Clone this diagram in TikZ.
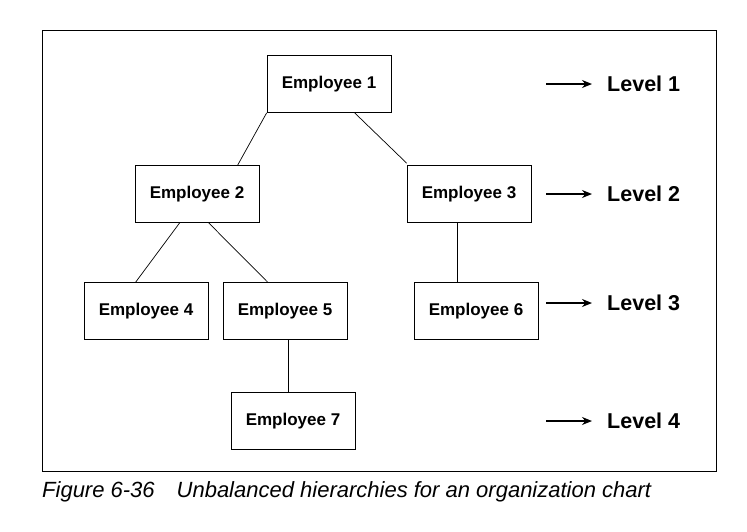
\documentclass[tikz,border=0pt]{standalone}
\usepackage{fontspec}
\setmainfont{Liberation Sans}
\usetikzlibrary{arrows.meta}
\begin{document}
\begin{tikzpicture}[x=1pt,y=-1pt,
  emp/.style={draw,line width=0.7pt,minimum width=124pt,minimum height=57pt,font=\fontsize{17}{19}\selectfont\bfseries,inner sep=0pt},
  conn/.style={line width=0.7pt},
  lev/.style={-{Stealth[length=10pt,width=8pt]},line width=1.3pt},
  levtxt/.style={anchor=west,font=\fontsize{21.5}{24}\selectfont\bfseries,inner sep=0pt}]
\useasboundingbox (0,0) rectangle (747,531);
\draw[line width=0.5pt] (42,30) rectangle (716,471);
\node[emp] (e1) at (329,84) {Employee 1};
\node[emp] (e2) at (197,194) {Employee 2};
\node[emp] (e3) at (469,194) {Employee 3};
\node[emp] (e4) at (146,311) {Employee 4};
\node[emp] (e5) at (285,311) {Employee 5};
\node[emp] (e6) at (476,311) {Employee 6};
\node[emp] (e7) at (293,421) {Employee 7};
\draw[conn] (e1.south west) -- ([xshift=103pt]e2.north west);
\draw[conn] ([xshift=88pt]e1.south west) -- ([yshift=2pt]e3.north west);
\draw[conn] ([xshift=45pt]e2.south west) -- ([xshift=52pt]e4.north west);
\draw[conn] ([xshift=74pt]e2.south west) -- ([xshift=45pt]e5.north west);
\draw[conn] ([xshift=51pt]e3.south west) -- ([xshift=44pt]e6.north west);
\draw[conn] ([xshift=66pt]e5.south west) -- ([xshift=58pt]e7.north west);
\foreach \i/\y in {1/84,2/194,3/303,4/421}{
  \coordinate (a\i) at (546,\y);
  \coordinate (b\i) at (592,\y);
  \node[levtxt] (l\i) at (607,\y) {Level \i};
  \draw[lev] (a\i) -- (b\i);
}
\node[anchor=west,inner sep=0pt,font=\fontsize{22}{25}\selectfont\itshape] (cap) at (42,492) {Figure 6-36\quad Unbalanced hierarchies for an organization chart};
\end{tikzpicture}
\end{document}
